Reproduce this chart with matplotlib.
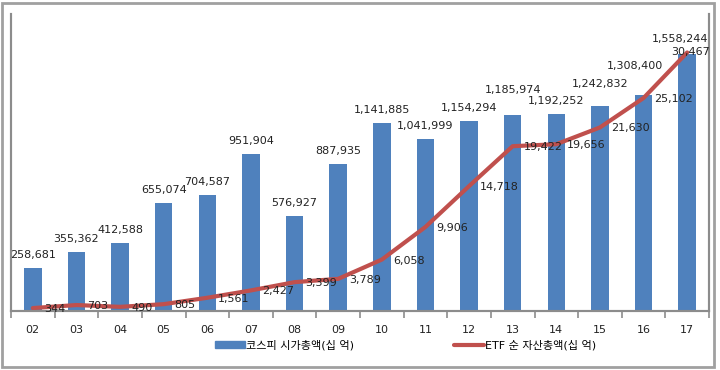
import matplotlib
matplotlib.use("Agg")
import matplotlib.pyplot as plt
from matplotlib.patches import Rectangle
import numpy as np

plt.rcParams['font.family'] = ['DejaVu Sans', 'Noto Sans CJK KR']

years = ['02', '03', '04', '05', '06', '07', '08', '09',
         '10', '11', '12', '13', '14', '15', '16', '17']
kospi_cap = [258681, 355362, 412588, 655074, 704587, 951904, 576927, 887935,
             1141885, 1041999, 1154294, 1185974, 1192252, 1242832, 1308400, 1558244]
etf_assets = [344, 703, 490, 805, 1561, 2427, 3399, 3789,
              6058, 9906, 14718, 19422, 19656, 21630, 25102, 30467]
kospi_name = '코스피 시가총액(십 억)'
etf_name = 'ETF 순 자산총액(십 억)'

BAR_COLOR = '#4F81BD'
LINE_COLOR = '#C0504D'
AXIS_COLOR = '#8C8C8C'
TEXT_COLOR = '#222222'

# label nudges (pixels) where the original chart moved them
bar_label_dy = {11: 25, 13: 22, 14: 29, 15: 15}
bar_label_dx = {15: -7, 14: -9}


def main():
    fig = plt.figure(figsize=(7.2, 3.7), dpi=100)
    ax = fig.add_axes([11 / 720, 1 - 311 / 370, 698 / 720, 297 / 370])
    ax2 = ax.twinx()

    x = np.arange(len(years))
    ax.bar(x, kospi_cap, width=0.4, color=BAR_COLOR, zorder=2)
    ax.set_xlim(-0.5, len(years) - 0.5)
    ax.set_ylim(0, 1800000)
    ax2.set_ylim(0, 35000)

    line, = ax2.plot(x, etf_assets, color=LINE_COLOR, lw=3, solid_capstyle='round')

    for i, v in enumerate(kospi_cap):
        ax.annotate(f'{v:,}', (x[i], v),
                    xytext=(bar_label_dx.get(i, 0), bar_label_dy.get(i, 13)),
                    textcoords='offset pixels', ha='center', va='center',
                    fontsize=8, color=TEXT_COLOR)

    for i, v in enumerate(etf_assets):
        if i == len(etf_assets) - 1:
            ax2.annotate(f'{v:,}', (x[i], v), xytext=(3, 0), textcoords='offset pixels',
                         ha='center', va='center', fontsize=8, color=TEXT_COLOR)
        else:
            ax2.annotate(f'{v:,}', (x[i], v), xytext=(11, -1), textcoords='offset pixels',
                         ha='left', va='center', fontsize=8, color=TEXT_COLOR)

    for a in (ax, ax2):
        a.spines['top'].set_visible(False)
        for s in ('left', 'right', 'bottom'):
            a.spines[s].set_color(AXIS_COLOR)
            a.spines[s].set_linewidth(1.5)
        a.set_yticks([])

    ax.set_xticks(x)
    ax.set_xticklabels(years, fontsize=8, color=TEXT_COLOR)
    ax.set_xticks(np.arange(-0.5, len(years), 1.0), minor=True)
    ax.tick_params(axis='x', which='major', length=0, pad=10)
    ax.tick_params(axis='x', which='minor', length=5, width=1.2, color=AXIS_COLOR, direction='out')

    bar_handle = Rectangle((0, 0), 1, 1, color=BAR_COLOR)
    fig.legend([bar_handle, line], [kospi_name, etf_name], loc='center',
               bbox_to_anchor=(0.563, 0.067), ncol=2, frameon=False, fontsize=8,
               handlelength=2.7, handleheight=0.6, handletextpad=0.1, columnspacing=9)

    border = Rectangle((2 / 720, 3 / 370), 712 / 720, 364 / 370, transform=fig.transFigure,
                       fill=False, edgecolor='#A0A0A0', lw=2)
    fig.patches.append(border)

    fig.savefig('out.png', dpi=100)


if __name__ == "__main__":
    main()
